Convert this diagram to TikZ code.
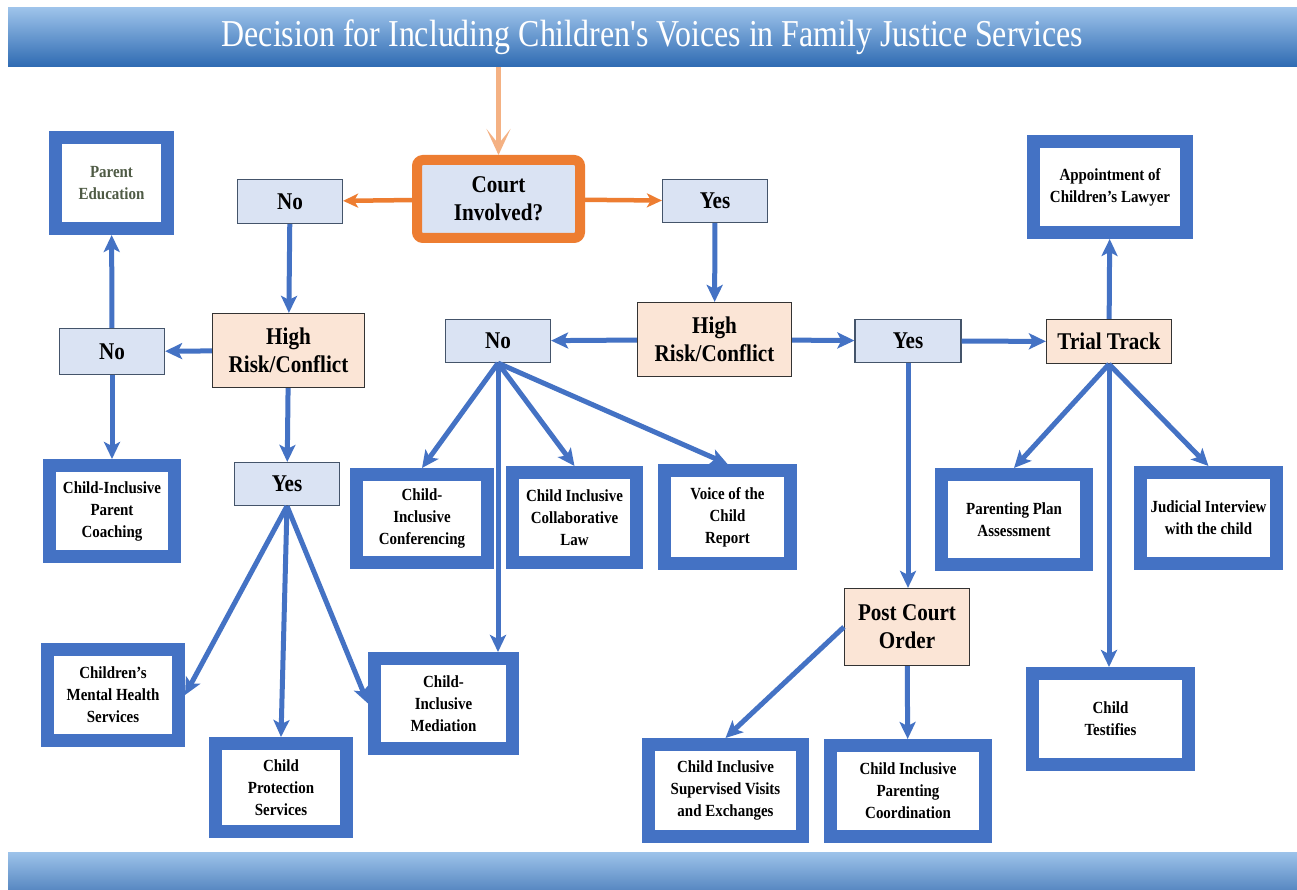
\documentclass[tikz,border=0pt]{standalone}
\usepackage{fontspec}
\setmainfont{Liberation Serif}[FakeStretch=0.88]
\newfontfamily\titlefont{Liberation Serif}[FakeStretch=0.84]
\usetikzlibrary{arrows.meta}
\definecolor{frameBlue}{HTML}{4472C4}
\definecolor{paleBlue}{HTML}{DAE3F3}
\definecolor{peach}{HTML}{FBE5D6}
\definecolor{courtOrange}{HTML}{ED7D31}
\definecolor{lightOrange}{HTML}{F4B183}
\definecolor{barLight}{HTML}{9DC3EA}
\definecolor{barDark}{HTML}{2E6AB2}
\definecolor{edgeGrey}{HTML}{44546A}
\definecolor{oliveText}{HTML}{4F5B45}

\begin{document}
\begin{tikzpicture}
[x=1pt,y=-1pt,
  blueArrow/.style={-{Stealth[length=17pt,width=16pt,inset=4pt]},line width=5pt,color=frameBlue},%
  orangeArrow/.style={-{Stealth[length=15pt,width=14pt,inset=4pt]},line width=4.5pt,color=courtOrange},%
  paleArrow/.style={-{Stealth[length=26pt,width=24pt,inset=15pt]},line width=5pt,color=lightOrange},%
  serviceBox/.style={draw=frameBlue,line width=13pt,fill=white,align=center,inner sep=1pt,
    font=\fontsize{17}{22}\selectfont\bfseries},%
  choiceBox/.style={draw=edgeGrey,line width=1.2pt,fill=paleBlue,align=center,inner sep=1pt,
    font=\fontsize{24}{28}\selectfont\bfseries},%
  riskBox/.style={draw=black!80,line width=1.2pt,fill=peach,align=center,inner sep=1pt,
    font=\fontsize{24}{28}\selectfont\bfseries},%
  courtBox/.style={draw=courtOrange,line width=10pt,rounded corners=6pt,fill=paleBlue,align=center,
    font=\fontsize{24}{28}\selectfont\bfseries},%
  titleBar/.style={top color=barLight,bottom color=barDark,text=white,inner sep=0pt,outer sep=0pt,
    minimum width=1289pt,minimum height=59pt}]
\fill[white] (0,0) rectangle (1297,890);
%% banners
\node (title) at (652.5,37.5) [titleBar]
  {\titlefont\fontsize{38}{44}\selectfont Decision for Including Children's Voices in Family Justice Services};
\fill[top color=barLight,bottom color=barDark!80] (8,852) rectangle (1297,890);
%% question and answer boxes
\node (court) at (498.5,199) [courtBox,minimum width=163pt,minimum height=78pt] {Court\\Involved?};
\foreach \nodename/\x/\y/\w/\h/\txt in {noA/290/201.5/105/44/No, yesA/715/201/105/43/Yes,
  noB/112/351.5/105/46/No, yesB/287/484/105/43/Yes, noC/498/341/105/43/No, yesC/908/341/106/43/Yes}
{
  \node (\nodename) at (\x,\y) [choiceBox,minimum width=\w pt,minimum height=\h pt] {\txt};
}
\foreach \nodename/\x/\y/\w/\h/\txt in {riskA/288.5/350.5/152/74/{High\\Risk/Conflict},
  riskB/714.5/339.5/154/74/{High\\Risk/Conflict}, trial/1109/341.5/125/44/{Trial Track},
  postOrder/907/627/125/77/{Post Court\\Order}}
{
  \node (\nodename) at (\x,\y) [riskBox,minimum width=\w pt,minimum height=\h pt] {\txt};
}
%% services
\node (parentEd) at (111.5,183) [serviceBox,minimum width=112pt,minimum height=91pt,text=oliveText]
  {Parent\\Education};
\foreach \nodename/\x/\y/\w/\h/\txt in {
  coaching/112/511/125/91/{Child-Inclusive\\Parent\\Coaching},
  mental/113/695/131/91/{Children's\\Mental Health\\Services},
  protection/281/787.5/131/88/{Child\\Protection\\Services},
  mediation/443.5/703.5/138/90/{Child-\\Inclusive\\Mediation},
  conferencing/422/518.5/131/88/{Child-\\Inclusive\\Conferencing},
  collab/574.5/517.5/124/90/{Child Inclusive\\Collaborative\\Law},
  voice/727.5/517/126/93/{Voice of the\\Child\\Report},
  lawyer/1110/187/153/91/{Appointment of\\Children's Lawyer},
  plan/1014/519.5/145/90/{Parenting Plan\\Assessment},
  judicial/1208.5/518/136/91/{Judicial Interview\\with the child},
  testifies/1110.5/719/156/91/{Child\\Testifies},
  visits/725.5/790.5/154/92/{Child Inclusive\\Supervised Visits\\and Exchanges},
  coordination/908/791/155/91/{Child Inclusive\\Parenting\\Coordination}}
{
  \node (\nodename) at (\x,\y) [serviceBox,minimum width=\w pt,minimum height=\h pt] {\txt};
}
%% orange connectors
\path (court.north |- title.south) edge[paleArrow] (court.north)
  (court) edge[orangeArrow] (noA)
  (court) edge[orangeArrow] (yesA);
%% blue connectors
\path
\foreach \startnode/\endnode in {noA/riskA, riskA/noB, noB/parentEd, noB/coaching, riskA/yesB,
  yesA/riskB, riskB/noC, riskB/yesC, yesC/trial, trial/lawyer, postOrder/coordination}
{
  (\startnode) edge[blueArrow] (\endnode)
}
\foreach \startnode/\endnode in {yesB.south/mental.east, yesB.south/protection.north,
  yesB.south/mediation.west, noC.south/conferencing.north, noC.south/collab.north,
  noC.south/voice.north, noC.south/{noC.south |- mediation.north},
  yesC.south/{yesC.south |- postOrder.north}, postOrder.west/visits.north,
  trial.south/plan.north, trial.south/judicial.north, trial.south/{trial.south |- testifies.north}}
{
  (\startnode) edge[blueArrow] (\endnode)
};
\end{tikzpicture}
\end{document}
